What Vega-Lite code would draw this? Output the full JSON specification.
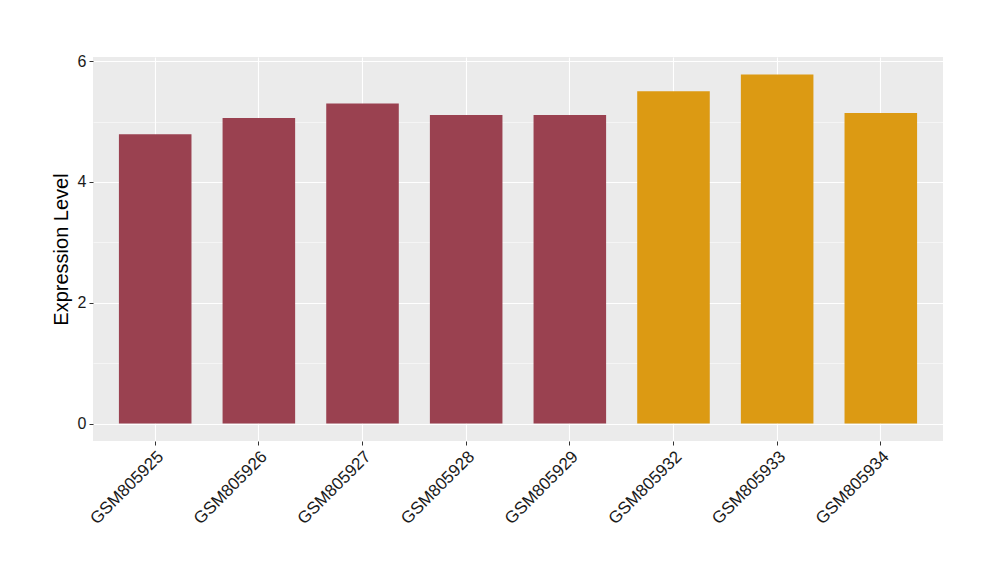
{
  "$schema": "https://vega.github.io/schema/vega-lite/v6.json",
  "autosize": "none",
  "width": 850,
  "height": 384,
  "padding": {"left": 93, "top": 57, "right": 57, "bottom": 139},
  "background": "white",
  "config": {
    "view": {"fill": "#EBEBEB", "stroke": null},
    "font": "Liberation Sans"
  },
  "data": {
    "values": [
      {"sample": "GSM805925", "value": 4.79, "group": "A"},
      {"sample": "GSM805926", "value": 5.06, "group": "A"},
      {"sample": "GSM805927", "value": 5.30, "group": "A"},
      {"sample": "GSM805928", "value": 5.11, "group": "A"},
      {"sample": "GSM805929", "value": 5.11, "group": "A"},
      {"sample": "GSM805932", "value": 5.50, "group": "B"},
      {"sample": "GSM805933", "value": 5.78, "group": "B"},
      {"sample": "GSM805934", "value": 5.14, "group": "B"}
    ]
  },
  "mark": {"type": "bar"},
  "encoding": {
    "x": {
      "field": "sample",
      "type": "nominal",
      "sort": null,
      "scale": {"paddingInner": 0.3, "paddingOuter": 0.25},
      "axis": {
        "title": null,
        "domain": false,
        "bandPosition": 0.5,
        "grid": true,
        "gridColor": "white",
        "gridWidth": 1.1,
        "ticks": true,
        "tickColor": "#333333",
        "tickSize": 4,
        "tickWidth": 1,
        "labelAngle": -45,
        "labelAlign": "right",
        "labelBaseline": "top",
        "labelFontSize": 17,
        "labelColor": "#1a1a1a",
        "labelPadding": 3
      }
    },
    "y": {
      "field": "value",
      "type": "quantitative",
      "scale": {"domain": [-0.289, 6.069], "nice": false, "zero": false},
      "axis": {
        "title": "Expression Level",
        "titleFontSize": 20,
        "titleFontWeight": "normal",
        "titleColor": "black",
        "titlePadding": 6,
        "domain": false,
        "values": [0, 1, 2, 3, 4, 5, 6],
        "labelExpr": "datum.value % 2 === 0 ? datum.label : ''",
        "grid": true,
        "gridColor": "white",
        "gridWidth": {"condition": {"test": "datum.value % 2 === 1", "value": 0.5}, "value": 1.1},
        "tickColor": {"condition": {"test": "datum.value % 2 === 1", "value": "transparent"}, "value": "#333333"},
        "tickSize": 4,
        "labelFontSize": 16,
        "labelColor": "#1a1a1a",
        "labelPadding": 3
      }
    },
    "y2": {"datum": 0},
    "color": {
      "field": "group",
      "type": "nominal",
      "scale": {"domain": ["A", "B"], "range": ["#9A4150", "#DC9A13"]},
      "legend": null
    }
  }
}
